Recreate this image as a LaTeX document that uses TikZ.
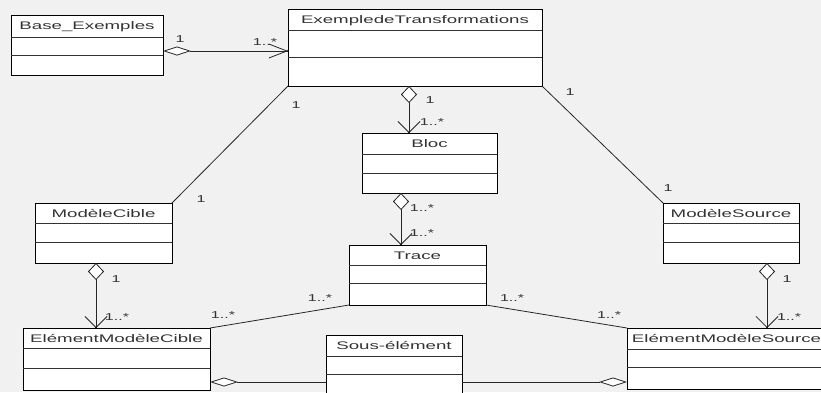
\documentclass[tikz,border=0pt]{standalone}
\usepackage{graphicx}
\usepackage{fontspec}
\setmainfont{Liberation Sans}
\usetikzlibrary{arrows.meta,calc,shadows}
\definecolor{bg}{HTML}{F1F1F1}
\definecolor{txt}{HTML}{333333}
\newcommand{\sttl}[1]{\scalebox{1.7}[1]{#1}}
\newcommand{\smul}[1]{\scalebox{1.6}[1]{#1}}
\newcommand{\divs}[3]{%
  \draw[divl] ($(#1.north west)+(0,#2)$) -- ($(#1.north east)+(0,#2)$);
  \draw[divl] ($(#1.north west)+(0,#3)$) -- ($(#1.north east)+(0,#3)$);}
\tikzset{
  cls/.style={draw=black, line width=1pt, fill=white, rectangle, anchor=north west,
    inner sep=0pt, outer sep=0pt,
    drop shadow={shadow xshift=1.2pt, shadow yshift=-1.2pt, opacity=0.35, fill=black}},
  divl/.style={draw=black!80, line width=0.8pt},
  ttl/.style={font=\fontsize{11}{12}\selectfont, text=txt, inner sep=0pt, anchor=base},
  mult/.style={font=\fontsize{10}{11}\selectfont, text=txt, inner sep=0pt},
  conn/.style={draw=black!85, line width=0.8pt},
  agg/.style={conn, {Diamond[fill=white, length=17pt, width=16pt]}-{Straight Barb[length=11pt, width=22pt]}},
  aggh/.style={conn, {Diamond[fill=white, length=28pt, width=9pt]}-{Straight Barb[length=18pt, width=14pt]}},
  aggd/.style={conn, {Diamond[fill=white, length=28pt, width=9pt]}-},
}
\begin{document}
\begin{tikzpicture}[x=1pt, y=-1pt]
\fill[bg] (0,0) rectangle (821,392);
\useasboundingbox (0,0) rectangle (821,392);

% helper coordinates
\coordinate (y51) at (0,51);
\coordinate (y382) at (0,382);
\coordinate (x409) at (409,0);
\coordinate (x401) at (401,0);
\coordinate (x96) at (96,0);
\coordinate (x767) at (767,0);

% classes
\node[cls, minimum width=152pt, minimum height=60pt] (base) at (11,15) {};
\node[cls, minimum width=254pt, minimum height=77pt] (ext) at (288,9) {};
\node[cls, minimum width=135pt, minimum height=60pt] (bloc) at (362,133) {};
\node[cls, minimum width=137pt, minimum height=60pt] (trace) at (349,245) {};
\node[cls, minimum width=137pt, minimum height=60pt] (mc) at (35,203) {};
\node[cls, minimum width=136pt, minimum height=60pt] (ms) at (663,203) {};
\node[cls, minimum width=187pt, minimum height=62pt] (emc) at (23,328) {};
\node[cls, minimum width=136pt, minimum height=64pt] (sous) at (326,335) {};
\node[cls, minimum width=199pt, minimum height=61pt] (ems) at (627,328) {};

\divs{base}{22}{40}
\divs{ext}{21}{48}
\divs{bloc}{21}{40}
\divs{trace}{20}{38}
\divs{mc}{20}{39}
\divs{ms}{20}{39}
\divs{emc}{20}{40}
\divs{sous}{21}{39}
\divs{ems}{21}{39}

% titles
\node[ttl] (tbase) at (87,29.5) {\sttl{Base\_Exemples}};
\node[ttl] (text) at (415,23) {\sttl{ExempledeTransformations}};
\node[ttl] (tbloc) at (429.5,147) {\sttl{Bloc}};
\node[ttl] (ttrace) at (417.5,259) {\sttl{Trace}};
\node[ttl] (tmc) at (103.5,217.5) {\sttl{ModèleCible}};
\node[ttl] (tms) at (731,217.5) {\sttl{ModèleSource}};
\node[ttl] (temc) at (116.5,342.5) {\sttl{ElémentModèleCible}};
\node[ttl] (tsous) at (394,349.5) {\sttl{Sous-élément}};
\node[ttl] (tems) at (726.5,342.5) {\sttl{ElémentModèleSource}};

% connectors
\draw[aggh] (base.east |- y51) -- (ext.west |- y51);
\draw[agg] (ext.south -| x409) -- (bloc.north -| x409);
\draw[agg] (bloc.south -| x401) -- (trace.north -| x401);
\draw[agg] (mc.south -| x96) -- (emc.north -| x96);
\draw[agg] (ms.south -| x767) -- (ems.north -| x767);
\draw[conn] (ext.south west) -- (mc.north east);
\draw[conn] (ext.south east) -- (ms.north west);
\draw[conn] (trace.south west) -- (emc.north east);
\draw[conn] (trace.south east) -- (ems.north west);
\draw[aggd] (emc.east |- y382) -- (sous.west |- y382);
\draw[aggd] (ems.west |- y382) -- (sous.east |- y382);

% junction dots
\fill (ext.west |- y51) circle (1.2);
\fill (bloc.north -| x409) circle (1.2);
\fill (trace.north -| x401) circle (1.2);
\fill (emc.north -| x96) circle (1.2);
\fill (ems.north -| x767) circle (1.2);

% multiplicities
\node[mult] (m1) at (180,39) {\smul{1}};
\node[mult] (m2) at (265,42) {\smul{1..*}};
\node[mult] (m3) at (430,100) {\smul{1}};
\node[mult] (m4) at (432,122) {\smul{1..*}};
\node[mult] (m5) at (422,208) {\smul{1..*}};
\node[mult] (m6) at (422,233) {\smul{1..*}};
\node[mult] (m7) at (116,279) {\smul{1}};
\node[mult] (m8) at (117,317) {\smul{1..*}};
\node[mult] (m9) at (787,279) {\smul{1}};
\node[mult] (m10) at (789,317) {\smul{1..*}};
\node[mult] (m11) at (296,105) {\smul{1}};
\node[mult] (m12) at (201,199) {\smul{1}};
\node[mult] (m13) at (570,92) {\smul{1}};
\node[mult] (m14) at (668,188) {\smul{1}};
\node[mult] (m15) at (320,298) {\smul{1..*}};
\node[mult] (m16) at (223,315) {\smul{1..*}};
\node[mult] (m17) at (512,298) {\smul{1..*}};
\node[mult] (m18) at (609,315) {\smul{1..*}};
\end{tikzpicture}
\end{document}
